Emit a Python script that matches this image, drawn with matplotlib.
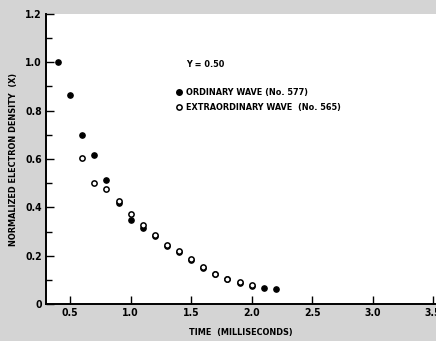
import matplotlib
matplotlib.use("Agg")
import matplotlib.pyplot as plt
from matplotlib.ticker import MultipleLocator

ord_t = [0.4, 0.5, 0.6, 0.7, 0.8, 0.9, 1.0, 1.1, 1.2, 1.3, 1.4, 1.5, 1.6, 1.7, 1.8, 1.9, 2.0, 2.1, 2.2]
ord_x = [1.00, 0.866, 0.70, 0.618, 0.512, 0.417, 0.348, 0.313, 0.281, 0.240, 0.215, 0.181, 0.150, 0.123, 0.102, 0.088, 0.076, 0.065, 0.063]
ext_t = [0.6, 0.7, 0.8, 0.9, 1.0, 1.1, 1.2, 1.3, 1.4, 1.5, 1.6, 1.7, 1.8, 1.9, 2.0]
ext_x = [0.604, 0.502, 0.476, 0.425, 0.374, 0.325, 0.285, 0.245, 0.220, 0.185, 0.155, 0.125, 0.105, 0.090, 0.080]

xticks = [0.5, 1.0, 1.5, 2.0, 2.5, 3.0, 3.5]
yticks = [0, 0.2, 0.4, 0.6, 0.8, 1.0, 1.2]
ytick_labels = ["0", "0.2", "0.4", "0.6", "0.8", "1.0", "1.2"]

font = dict(family="DejaVu Sans", stretch="condensed", weight="bold")

fig = plt.figure(figsize=(4.36, 3.41), dpi=100, facecolor="#d4d4d4")
ax = fig.add_axes([46/436, 37/341, 389.6/436, 290/341])
ax.set_facecolor("white")

ax.plot(ord_t, ord_x, "o", color="black", markersize=3.8, linestyle="none")
ax.plot(ext_t, ext_x, "o", markerfacecolor="white", markeredgecolor="black",
        markeredgewidth=1.1, markersize=3.8, linestyle="none")

ax.set_xlim(0.3, 3.52)
ax.set_ylim(0, 1.2)
ax.set_xticks(xticks)
ax.set_xticklabels([f"{v:.1f}" for v in xticks], fontsize=7.5, **font)
ax.set_yticks(yticks)
ax.set_yticklabels(ytick_labels, fontsize=7.5, **font)
ax.yaxis.set_minor_locator(MultipleLocator(0.1))
ax.tick_params(axis="both", which="major", direction="in", length=6, width=1, pad=3)
ax.tick_params(axis="y", which="minor", direction="in", length=4, width=1)
for s in ["top", "right"]:
    ax.spines[s].set_visible(False)
for s in ["left", "bottom"]:
    ax.spines[s].set_linewidth(1.4)

ax.set_xlabel("TIME  (MILLISECONDS)", fontsize=6.5, labelpad=7, **font)
ax.set_ylabel("NORMALIZED ELECTRON DENSITY  (X)", fontsize=6.5, labelpad=5, **font)

ax.text(1.46, 0.993, "Y = 0.50", fontsize=6.5, va="center", **font)
ax.plot([1.40], [0.877], "o", color="black", markersize=4)
ax.text(1.46, 0.877, "ORDINARY WAVE (No. 577)", fontsize=6.5, va="center", **font)
ax.plot([1.40], [0.815], "o", markerfacecolor="white", markeredgecolor="black",
        markeredgewidth=1.1, markersize=3.8)
ax.text(1.46, 0.815, "EXTRAORDINARY WAVE  (No. 565)", fontsize=6.5, va="center", **font)

fig.savefig("out.png", dpi=100, facecolor=fig.get_facecolor())
